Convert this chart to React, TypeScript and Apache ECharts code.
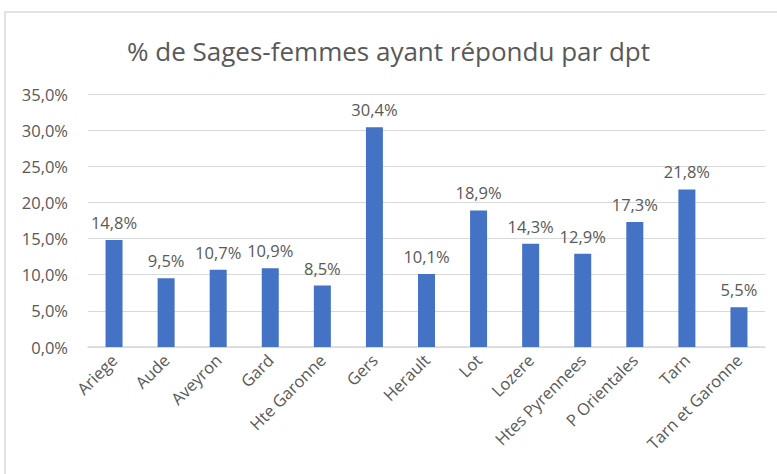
import React, { useEffect, useRef } from "react";
import * as echarts from "echarts";

const categories = [
  "Ariege", "Aude", "Aveyron", "Gard", "Hte Garonne", "Gers", "Herault",
  "Lot", "Lozere", "Htes Pyrennees", "P Orientales", "Tarn", "Tarn et Garonne",
];
const values = [14.8, 9.5, 10.7, 10.9, 8.5, 30.4, 10.1, 18.9, 14.3, 12.9, 17.3, 21.8, 5.5];
const title = "% de Sages-femmes ayant répondu par dpt";

const fmt = (v: number) => v.toFixed(1).replace(".", ",") + "%";
const FONT = "'Open Sans', 'Noto Sans', sans-serif";

export default function App() {
  const ref = useRef<HTMLDivElement>(null);
  useEffect(() => {
    if (!ref.current) return;
    const chart = echarts.init(ref.current, undefined, { renderer: "svg" });
    chart.setOption({
      animation: false,
      backgroundColor: "#ffffff",
      textStyle: { fontFamily: FONT },
      title: {
        text: title,
        left: "center",
        top: 33,
        textStyle: { fontSize: 26, fontWeight: "normal", color: "#595959", fontFamily: FONT },
      },
      graphic: [
        {
          type: "rect",
          shape: { x: 5, y: 12, width: 790, height: 480 },
          style: { fill: "none", stroke: "#D9D9D9", lineWidth: 1.5 },
          silent: true,
        },
      ],
      grid: { left: 88, right: 12, top: 94, bottom: 127, containLabel: false },
      xAxis: {
        type: "category",
        data: categories,
        axisLine: { show: true, lineStyle: { color: "#D9D9D9", width: 1.5 } },
        axisTick: { show: false },
        axisLabel: {
          rotate: 45,
          interval: 0,
          color: "#595959",
          fontSize: 16.5,
          fontFamily: FONT,
          margin: 10,
        },
      },
      yAxis: {
        type: "value",
        min: 0,
        max: 35,
        interval: 5,
        axisLine: { show: false },
        axisTick: { show: false },
        splitLine: { lineStyle: { color: "#D9D9D9", width: 1 } },
        axisLabel: {
          formatter: (v: number) => fmt(v),
          color: "#595959",
          fontSize: 16.5,
          fontFamily: FONT,
          margin: 20,
        },
      },
      series: [
        {
          type: "bar",
          data: values,
          barWidth: 17,
          itemStyle: { color: "#4472C4" },
          label: {
            show: true,
            position: "top",
            formatter: (p: any) => fmt(p.value),
            color: "#595959",
            fontSize: 16.5,
            fontFamily: FONT,
            distance: 9,
          },
        },
      ],
    });
    return () => chart.dispose();
  }, []);
  return <div ref={ref} style={{ width: 777, height: 474, position: "absolute", left: 0, top: 0 }} />;
}
